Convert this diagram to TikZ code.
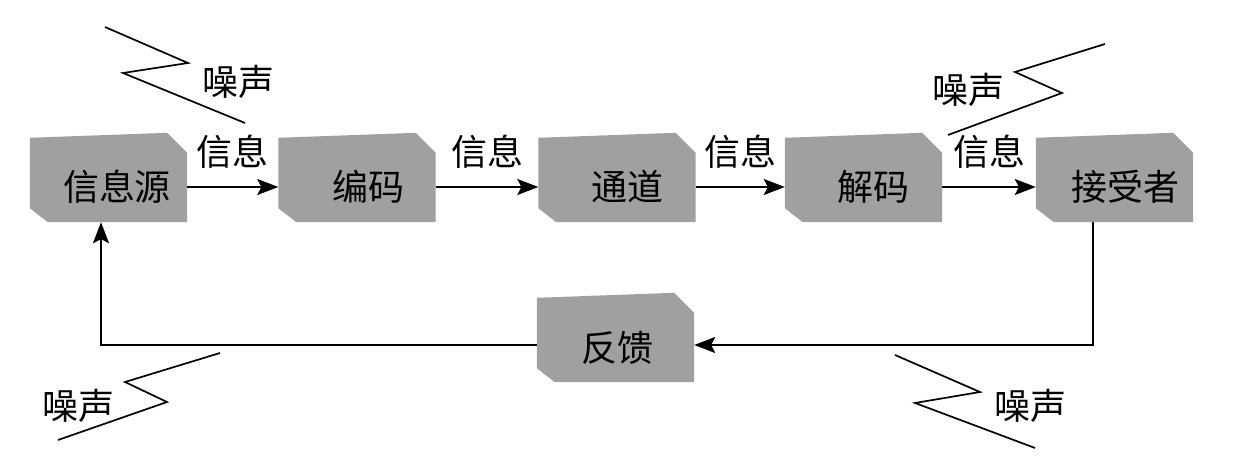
\documentclass[tikz,border=0pt]{standalone}
\usepackage{fontspec}
\newfontfamily\cjk{Noto Sans CJK SC}
\usetikzlibrary{arrows.meta}
\definecolor{boxgray}{RGB}{160,160,160}
\tikzset{
  stage/.style={rectangle, minimum width=157pt, minimum height=89pt, inner sep=0pt},
  word/.style={font=\cjk\fontsize{36}{40}\selectfont, inner sep=0pt},
  flow/.style={-{Stealth[length=21pt,width=16pt,inset=4pt]}, line width=1.7pt},
  noise/.style={line width=1.7pt},
}
\begin{document}
\begin{tikzpicture}[x=1pt,y=-1pt]
\useasboundingbox (0,0) rectangle (1235,473);
% boxes
\node [stage] (src) at (108.5,177.5) {};
\node [stage] (enc) at (357,177.5) {};
\node [stage] (chan) at (617,177.5) {};
\node [stage] (dec) at (863.5,177.5) {};
\node [stage] (recv) at (1114.5,177.5) {};
\node [stage] (fback) at (615.5,337.5) {};
\foreach \b in {src,enc,chan,dec,recv,fback}
  \fill [boxgray] ([yshift=-5pt]\b.north west) -- ([xshift=-20pt]\b.north east)
	-- ([yshift=-20pt]\b.north east) -- (\b.south east)
	-- ([xshift=18pt]\b.south west) -- ([yshift=14pt]\b.south west) -- cycle;
\node [word] (srctext) at (117,187) {信息源};
\node [word] (enctext) at (368,187) {编码};
\node [word] (chantext) at (627,187) {通道};
\node [word] (dectext) at (873,187) {解码};
\node [word] (recvtext) at (1125,187) {接受者};
\node [word] (fbacktext) at (617,348) {反馈};
% forward path
\draw [flow] (src.east |- srctext) -- (enc.west |- srctext)
	node [word,midway,yshift=35pt] (msga) {信息};
\draw [flow] (enc.east |- srctext) -- (chan.west |- srctext)
	node [word,midway,yshift=35pt] (msgb) {信息};
\draw [flow] (chan.east |- srctext) -- (dec.west |- srctext)
	node [word,midway,yshift=35pt] (msgc) {信息};
\draw [flow] (dec.east |- srctext) -- (recv.west |- srctext)
	node [word,midway,yshift=35pt] (msgd) {信息};
% feedback path
\coordinate (backr) at (1093,345);
\coordinate (backl) at (101,345);
\draw [flow] (recv.south -| backr) -- (backr) -- (fback.east |- backr);
\draw [flow] (fback.west |- backl) -- (backl) -- (backl |- src.south);
% noise
\draw [noise] (105,27) -- (188,63) -- (123,73) -- (245,123);
\node [word] (noisea) at (238,82) {噪声};
\draw [noise] (1105,44) -- (1015,72) -- (1062,93) -- (948,135);
\node [word] (noiseb) at (968,90) {噪声};
\draw [noise] (220,353) -- (125,382) -- (167,402) -- (58,440);
\node [word] (noisec) at (78,406) {噪声};
\draw [noise] (895,355) -- (980,392) -- (915,403) -- (1035,448);
\node [word] (noised) at (1030,406) {噪声};
\end{tikzpicture}
\end{document}
